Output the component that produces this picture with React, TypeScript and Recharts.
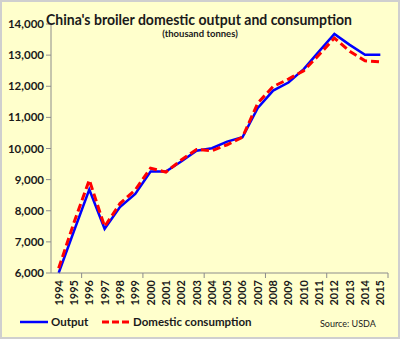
import { LineChart, Line, XAxis, YAxis } from 'recharts';

const years = [
  1994, 1995, 1996, 1997, 1998, 1999, 2000, 2001, 2002, 2003, 2004,
  2005, 2006, 2007, 2008, 2009, 2010, 2011, 2012, 2013, 2014, 2015,
];
const output = [
  6000, 7350, 8680, 7420, 8120, 8540, 9260, 9260, 9580, 9930, 10010,
  10220, 10360, 11300, 11860, 12120, 12550, 13120, 13680, 13330, 13010, 13010,
];
const consumption = [
  6150, 7620, 8990, 7490, 8230, 8670, 9370, 9240, 9630, 9970, 9930,
  10120, 10360, 11460, 11990, 12230, 12500, 13010, 13550, 13120, 12820, 12780,
];
const yTicks = [6000, 7000, 8000, 9000, 10000, 11000, 12000, 13000, 14000];
// band edges between years, so the tick marks sit between the labels like in Excel
const edgeTicks = [...years.map((y) => y - 0.5), years[years.length - 1] + 0.5];

const data = years.map((year, i) => ({
  year,
  output: output[i],
  consumption: consumption[i],
}));

const FONT = 'Lato, "Open Sans", sans-serif';
const TEXT = '#1a1a1a';

function YearTick(props: any) {
  const { x, y, payload } = props;
  return (
    <text
      x={x + 4}
      y={y + 1}
      transform={`rotate(-90, ${x + 4}, ${y + 1})`}
      textAnchor="end"
      fontFamily={FONT}
      fontWeight={700}
      fontSize={11}
      fill={TEXT}
    >
      {payload.value}
    </text>
  );
}

export default function App() {
  const domain: [number, number] = [years[0] - 0.5, years[years.length - 1] + 0.5];
  return (
    <div
      style={{
        position: 'absolute',
        left: 0,
        top: 0,
        width: 400,
        height: 339,
        boxSizing: 'border-box',
        border: '2px solid #cfcfcf',
        background: '#ffffcc',
        overflow: 'hidden',
      }}
    >
      <div style={{ position: 'absolute', left: -2, top: -2 }}>
        <LineChart
          width={400}
          height={339}
          data={data}
          margin={{ top: 24, right: 12, bottom: 32, left: 0 }}
        >
          <XAxis
            xAxisId="edges"
            dataKey="year"
            type="number"
            domain={domain}
            ticks={edgeTicks}
            tick={() => <g />}
            tickSize={5}
            height={6}
            stroke="#8c8c8c"
            allowDataOverflow
          />
          <XAxis
            xAxisId="years"
            dataKey="year"
            type="number"
            domain={domain}
            ticks={years}
            interval={0}
            tick={<YearTick />}
            axisLine={false}
            tickLine={false}
            tickSize={0}
            tickMargin={0}
            height={28}
            allowDataOverflow
          />
          <YAxis
            domain={[6000, 14000]}
            ticks={yTicks}
            width={51}
            tickSize={5}
            stroke="#8c8c8c"
            tickFormatter={(v: number) => v.toLocaleString('en-US')}
            tick={{ fill: TEXT, fontFamily: FONT, fontWeight: 700, fontSize: 11.5 }}
          />
          <Line
            xAxisId="edges"
            dataKey="output"
            stroke="#0000ff"
            strokeWidth={2.5}
            dot={false}
            isAnimationActive={false}
          />
          <Line
            xAxisId="edges"
            dataKey="consumption"
            stroke="#ff0000"
            strokeWidth={3}
            strokeDasharray="8 4"
            dot={false}
            isAnimationActive={false}
          />
        </LineChart>
      </div>
      <svg
        width={400}
        height={339}
        style={{ position: 'absolute', left: -2, top: -2, pointerEvents: 'none' }}
      >
        <text
          x={199}
          y={25}
          textAnchor="middle"
          fontFamily={FONT}
          fontWeight={700}
          fontSize={16}
          fill={TEXT}
          textLength={306}
          lengthAdjust="spacingAndGlyphs"
        >
          China's broiler domestic output and consumption
        </text>
        <text
          x={200}
          y={37}
          textAnchor="middle"
          fontFamily={FONT}
          fontWeight={700}
          fontSize={9.5}
          fill={TEXT}
        >
          (thousand tonnes)
        </text>
        <line x1={20} y1={322} x2={48} y2={322} stroke="#0000ff" strokeWidth={2.5} />
        <text x={51} y={326} fontFamily={FONT} fontWeight={700} fontSize={11.5} fill={TEXT}>
          Output
        </text>
        <line
          x1={102}
          y1={322}
          x2={130}
          y2={322}
          stroke="#ff0000"
          strokeWidth={3}
          strokeDasharray="7 3"
        />
        <text x={133} y={326} fontFamily={FONT} fontWeight={700} fontSize={11.5} fill={TEXT}>
          Domestic consumption
        </text>
        <text x={320} y={327} fontFamily={FONT} fontSize={9} fill={TEXT}>
          Source: USDA
        </text>
      </svg>
    </div>
  );
}
